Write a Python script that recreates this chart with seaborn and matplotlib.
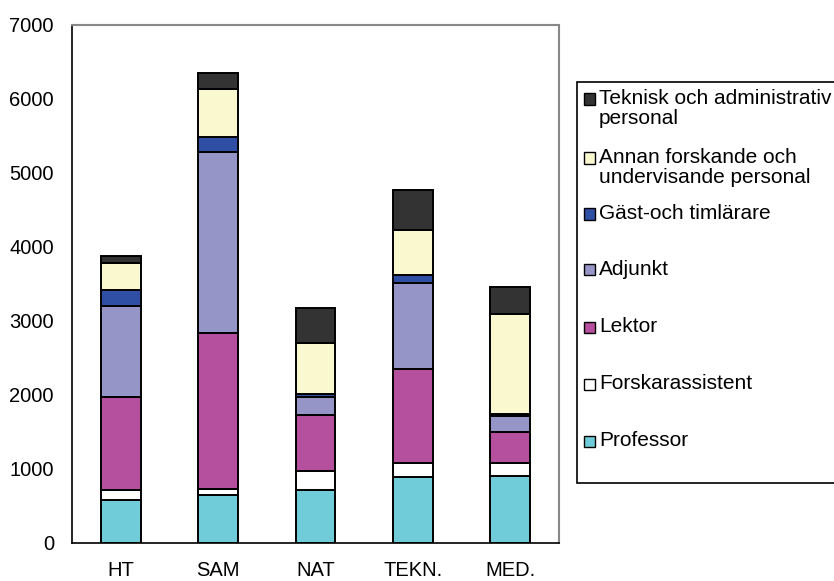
import numpy as np
import seaborn as sns
import matplotlib.pyplot as plt
from matplotlib.patches import Rectangle

sns.set_style("white")
plt.rcParams['font.family'] = ['Liberation Sans', 'DejaVu Sans']
plt.rcParams['text.color'] = 'black'
plt.rcParams['xtick.color'] = 'black'
plt.rcParams['ytick.color'] = 'black'

# departments on the x axis
departments = ['HT', 'SAM', 'NAT', 'TEKN.', 'MED.']

# staff categories, bottom of the stack first
categories = ['Professor', 'Forskarassistent', 'Lektor', 'Adjunkt',
              'Gäst-och timlärare', 'Annan forskande och\nundervisande personal',
              'Teknisk och administrativ\npersonal']

professor = [580, 643, 715, 890, 904]
forskarassistent = [135, 90, 260, 193, 179]
lektor = [1260, 2100, 750, 1264, 418]
adjunkt = [1230, 2445, 250, 1167, 221]
gast = [220, 205, 45, 105, 27]
annan = [355, 655, 685, 615, 1349]
teknisk = [95, 210, 465, 540, 359]

series = [professor, forskarassistent, lektor, adjunkt, gast, annan, teknisk]
colors = ['#70CCD9', '#FFFFFF', '#B5509E', '#9595C8', '#2E4FA3', '#FAF8CE', '#333333']

fig = plt.figure(figsize=(8.34, 5.81), dpi=100)
ax = fig.add_axes([72 / 834, 38 / 581, 487 / 834, 518 / 581])

bottom = np.zeros(len(departments))
for vals, col in zip(series, colors):
    sns.barplot(x=departments, y=vals, bottom=bottom, color=col, width=0.41,
                edgecolor='black', linewidth=1.4, saturation=1, ax=ax)
    bottom += np.array(vals)

ax.set_xlim(-0.5, 4.5)
ax.set_ylim(0, 7000)
ax.set_yticks(range(0, 7001, 1000))
ax.set_xticks(range(len(departments)))
ax.set_xticklabels(departments)
ax.set_xticks(np.arange(-0.5, 4.6, 1), minor=True)
ax.tick_params(axis='x', which='major', length=0, pad=13, labelsize=14.5)
ax.tick_params(axis='x', which='minor', length=6, width=1, direction='out')
ax.tick_params(axis='y', length=6, width=1, direction='out', pad=7, labelsize=14.5)
ax.set_xlabel('')
ax.set_ylabel('')

for side in ['left', 'bottom']:
    ax.spines[side].set_color('black')
    ax.spines[side].set_linewidth(1.2)
for side in ['top', 'right']:
    ax.spines[side].set_color('#888888')
    ax.spines[side].set_linewidth(1.5)

# legend box drawn by hand so the swatches sit on the first text line
fig.add_artist(Rectangle((577 / 834, (581 - 483) / 581), 270 / 834, 401 / 581,
                         transform=fig.transFigure, facecolor='white',
                         edgecolor='black', linewidth=1.2))
legend_y = [99, 158, 214, 270, 327, 384, 441]
for lab, col, y in zip(categories[::-1], colors[::-1], legend_y):
    fig.add_artist(Rectangle((584 / 834, (581 - y - 5.5) / 581), 11 / 834, 11 / 581,
                             transform=fig.transFigure, facecolor=col,
                             edgecolor='black', linewidth=1))
    fig.text(599 / 834, (581 - y + 10) / 581, lab, fontsize=15, va='top',
             ha='left', linespacing=1.08)

fig.savefig('out.png', dpi=100)
